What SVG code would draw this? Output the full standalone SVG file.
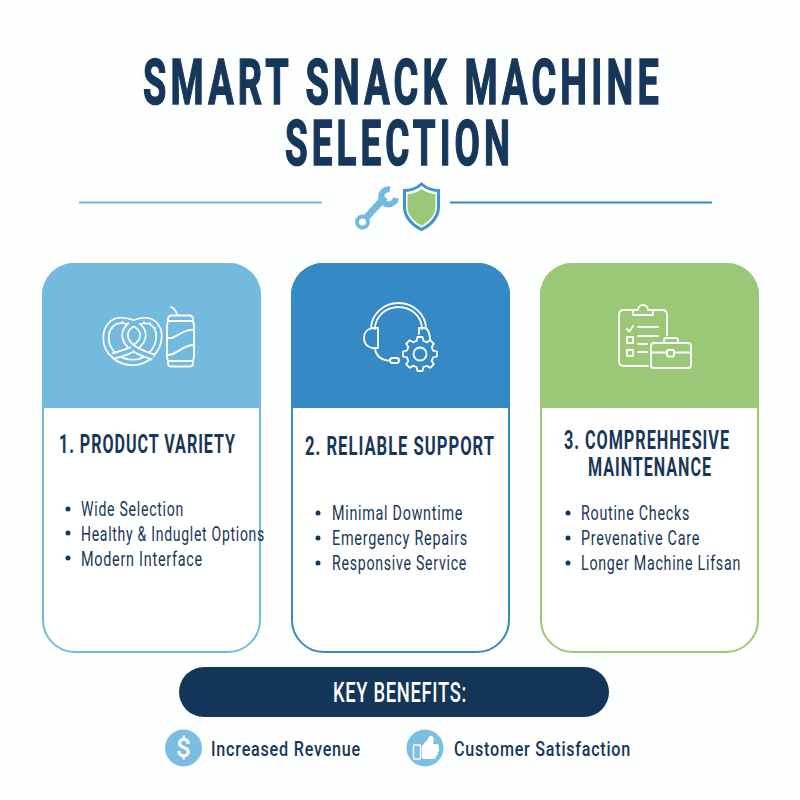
<svg xmlns="http://www.w3.org/2000/svg" xmlns:xlink="http://www.w3.org/1999/xlink" width="800" height="800" viewBox="0 0 800 800">
<style>
text{font-family:"Roboto","Liberation Sans",sans-serif;fill:#17375a}
.title{font-size:63px;font-weight:700;letter-spacing:7px;stroke:#17375a;stroke-width:1.600px}
.head{font-size:25px;font-weight:700;letter-spacing:1.500px}
.item{font-size:19.500px;font-weight:400;letter-spacing:1px}
.ben{font-size:21px;font-weight:500;letter-spacing:1px}
.ic{fill:none;stroke:#fff;stroke-width:1.800;stroke-linecap:round;stroke-linejoin:round}
.dot{fill:#17375a}
.ro{fill:none;stroke:#fff;stroke-width:7.200;stroke-linejoin:round}
.ri{fill:none;stroke:#74b9de;stroke-width:3.800;stroke-linejoin:round}
</style>
<defs>
<path id="tooth" d="M-3.500 -13 L-2.500 -17 L2.500 -17 L3.500 -13 A13.460 13.460 0 0 1 6.730 -11.660"/>
<path id="rope" d="M113 356 C125 353 143 347 143 335 C143 327 133 321 122 320.500 C112 320 106 328 106 338 C106 353 120 362.500 133 362.500 C147 362.500 159 350 159 336 C159 327 153 320.500 145 320.500 C134 321 125 327 125 335 C125 347 141 353 153 357"/>
<path id="strand" d="M125 335 C125 347 141 353 153 357"/>
<path id="strand2" d="M113 356 C119 354.500 126 352.400 132 349.500"/>
</defs>
<rect width="800" height="800" fill="#fdfefe"/>

<g id="title">
<text class="title" x="143" y="103.500" textLength="520" lengthAdjust="spacingAndGlyphs">SMART SNACK MACHINE</text>
<text class="title" x="285" y="164.500" textLength="229" lengthAdjust="spacingAndGlyphs">SELECTION</text>
</g>

<g id="connectors">
<line x1="79" y1="202.500" x2="322" y2="202.500" stroke="#74b9de" stroke-width="2"/>
<line x1="450" y1="202.500" x2="712" y2="202.500" stroke="#3589c4" stroke-width="2"/>
</g>

<g id="divider-icons">
<line x1="365.500" y1="218.500" x2="385" y2="197" stroke="#74b9de" stroke-width="7"/>
<path d="M390 189.500 A7.500 7.500 0 1 0 396 198" fill="none" stroke="#74b9de" stroke-width="6"/>
<circle cx="362.500" cy="222" r="5.500" fill="#fff" stroke="#74b9de" stroke-width="4"/>
<path d="M421.500 184 C416 189 410 190.500 404.500 190.500 L404.500 207 C404.500 217 412 225 421.500 229.500 C431 225 438.500 217 438.500 207 L438.500 190.500 C433 190.500 427 189 421.500 184Z" fill="#fff" stroke="#3f93cf" stroke-width="3"/>
<path d="M421.500 189 C417 192.500 412 194 407.500 194 L407.500 207 C407.500 215 414 221.500 421.500 225.500 C429 221.500 435.500 215 435.500 207 L435.500 194 C431 194 426 192.500 421.500 189Z" fill="#9bc877"/>
</g>

<g id="card-1">
<rect x="43" y="264" width="217" height="388" rx="32" fill="#fff" stroke="#74b9de" stroke-width="2"/>
<path d="M42 408 V296 A32 32 0 0 1 75 263 H228 A32 32 0 0 1 261 296 V408Z" fill="#74b9de"/>
<use xlink:href="#rope" class="ro"/><use xlink:href="#rope" class="ri"/>
<use xlink:href="#strand" class="ro"/><use xlink:href="#strand" class="ri"/>
<use xlink:href="#strand2" class="ro"/><use xlink:href="#strand2" class="ri"/>
<g fill="#fff"><circle cx="112" cy="328" r="1"/><circle cx="117" cy="324" r="1"/><circle cx="122.500" cy="322" r="1"/><circle cx="128" cy="323" r="1"/><circle cx="144" cy="322" r="1"/><circle cx="150" cy="323" r="1"/><circle cx="155" cy="328" r="1"/></g>
<path class="ic" d="M171 315.500 H190 Q193 316 193 319 V321 L194 325 V357 L193 361 V363 Q193 366.500 190 366.500 H171 Q168 366.500 168 363 V361 L167 357 V325 L168 321 V319 Q168 316 171 315.500Z M168 321 H193 M168 361 H193"/>
<path class="ic" d="M171 307 Q176 309 177 315 M167 338 C176 340 182 328 194 330 M167 355 C176 356 182 345 194 345"/>
<text class="head" x="59" y="453" textLength="177" lengthAdjust="spacingAndGlyphs">1. PRODUCT VARIETY</text>
<circle class="dot" cx="68" cy="509" r="2.500"/><circle class="dot" cx="68" cy="533" r="2.500"/><circle class="dot" cx="68" cy="558" r="2.500"/>
<text class="item" x="81" y="516" textLength="103" lengthAdjust="spacingAndGlyphs">Wide Selection</text>
<text class="item" x="81" y="541" textLength="184" lengthAdjust="spacingAndGlyphs">Healthy &amp; Induglet Options</text>
<text class="item" x="81" y="566" textLength="122" lengthAdjust="spacingAndGlyphs">Modern Interface</text>
</g>

<g id="card-2">
<rect x="292" y="264" width="217" height="388" rx="32" fill="#fff" stroke="#3589c4" stroke-width="2"/>
<path d="M291 408 V296 A32 32 0 0 1 324 263 H477 A32 32 0 0 1 510 296 V408Z" fill="#3589c4"/>
<path class="ic" d="M371 329 A27.500 26 0 0 1 426 329 M375 329 A23.500 22 0 0 1 422 329"/>
<path class="ic" d="M372 328 H378 V348 H372 Q364 346 364 338 Q364 330 372 328Z M419 328 H426 Q430 332 430 340 M419 328 V334"/>
<path class="ic" d="M375 349 C376 356 382 361 390 360.500"/>
<rect class="ic" x="390" y="358" width="9" height="5" rx="2.500"/>
<g transform="translate(420 354)">
<circle r="15" fill="#3589c4"/>
<g class="ic">
<use xlink:href="#tooth"/><use xlink:href="#tooth" transform="rotate(45)"/><use xlink:href="#tooth" transform="rotate(90)"/><use xlink:href="#tooth" transform="rotate(135)"/><use xlink:href="#tooth" transform="rotate(180)"/><use xlink:href="#tooth" transform="rotate(225)"/><use xlink:href="#tooth" transform="rotate(270)"/><use xlink:href="#tooth" transform="rotate(315)"/>
<circle r="6.500"/>
</g>
</g>
<text class="head" x="305" y="455" textLength="190" lengthAdjust="spacingAndGlyphs">2. RELIABLE SUPPORT</text>
<circle class="dot" cx="318" cy="513" r="2.500"/><circle class="dot" cx="318" cy="538" r="2.500"/><circle class="dot" cx="318" cy="563" r="2.500"/>
<text class="item" x="332" y="520" textLength="131" lengthAdjust="spacingAndGlyphs">Minimal Downtime</text>
<text class="item" x="332" y="545" textLength="136" lengthAdjust="spacingAndGlyphs">Emergency Repairs</text>
<text class="item" x="332" y="570" textLength="135" lengthAdjust="spacingAndGlyphs">Responsive Service</text>
</g>

<g id="card-3">
<rect x="541" y="264" width="217" height="388" rx="32" fill="#fff" stroke="#9bc877" stroke-width="2"/>
<path d="M540 408 V296 A32 32 0 0 1 573 263 H726 A32 32 0 0 1 759 296 V408Z" fill="#9bc877"/>
<path class="ic" d="M633 310 H624 Q619 310 619 315 V361 Q619 366 624 366 H648 M653 310 H662 Q667 310 667 315 V335"/>
<path class="ic" d="M633 315 V310 H638 A5 5 0 0 1 648 310 H653 V315Z"/>
<path class="ic" d="M627 329 L629.500 331.500 L633 326 M638 327 H658 M638 336 H658 M638 344 H647 M638 352 H647"/>
<rect class="ic" x="627" y="337" width="6" height="6"/><rect class="ic" x="627" y="350" width="6" height="6"/>
<rect class="ic" x="651" y="343" width="40" height="25" rx="3"/>
<path class="ic" d="M664 343 V340 Q664 338 666 338 H676 Q678 338 678 340 V343 M651 352.500 H667 M674 352.500 H691"/>
<rect class="ic" x="667" y="350" width="7" height="6.500" rx="1"/>
<text class="head" x="564" y="449" textLength="166" lengthAdjust="spacingAndGlyphs">3. COMPREHHESIVE</text>
<text class="head" x="588" y="476" textLength="124" lengthAdjust="spacingAndGlyphs">MAINTENANCE</text>
<circle class="dot" cx="568" cy="513" r="2.500"/><circle class="dot" cx="568" cy="538" r="2.500"/><circle class="dot" cx="568" cy="563" r="2.500"/>
<text class="item" x="581" y="520" textLength="109" lengthAdjust="spacingAndGlyphs">Routine Checks</text>
<text class="item" x="581" y="545" textLength="119" lengthAdjust="spacingAndGlyphs">Prevenative Care</text>
<text class="item" x="581" y="570" textLength="160" lengthAdjust="spacingAndGlyphs">Longer Machine Lifsan</text>
</g>

<g id="key-benefits">
<rect x="179" y="667" width="430" height="50" rx="25" fill="#133558"/>
<text x="333" y="702" font-size="27" font-weight="500" letter-spacing="1" style="fill:#fff" textLength="134" lengthAdjust="spacingAndGlyphs">KEY BENEFITS:</text>
</g>

<g id="benefit-revenue">
<circle cx="183.500" cy="748" r="18.500" fill="#7cbde2"/>
<text x="183.500" y="757" font-size="26" font-weight="500" text-anchor="middle" style="fill:#fff">$</text>
<text class="ben" x="211" y="756" textLength="150" lengthAdjust="spacingAndGlyphs">Increased Revenue</text>
</g>

<g id="benefit-satisfaction">
<circle cx="425" cy="748" r="18.500" fill="#7cbde2"/>
<rect x="413.500" y="745" width="7" height="14" rx="1" fill="none" stroke="#fff" stroke-width="1.500"/>
<path d="M422 746 L428 739 Q429 735 432 736 Q435 738 433 744 H437 Q440 745 438.500 748 Q440 751 437.500 752 Q438.500 755 436 756 Q436 759 433 759 H425 Q422 759 422 757Z" fill="#fff"/>
<text class="ben" x="454" y="756" textLength="177" lengthAdjust="spacingAndGlyphs">Customer Satisfaction</text>
</g>
</svg>
